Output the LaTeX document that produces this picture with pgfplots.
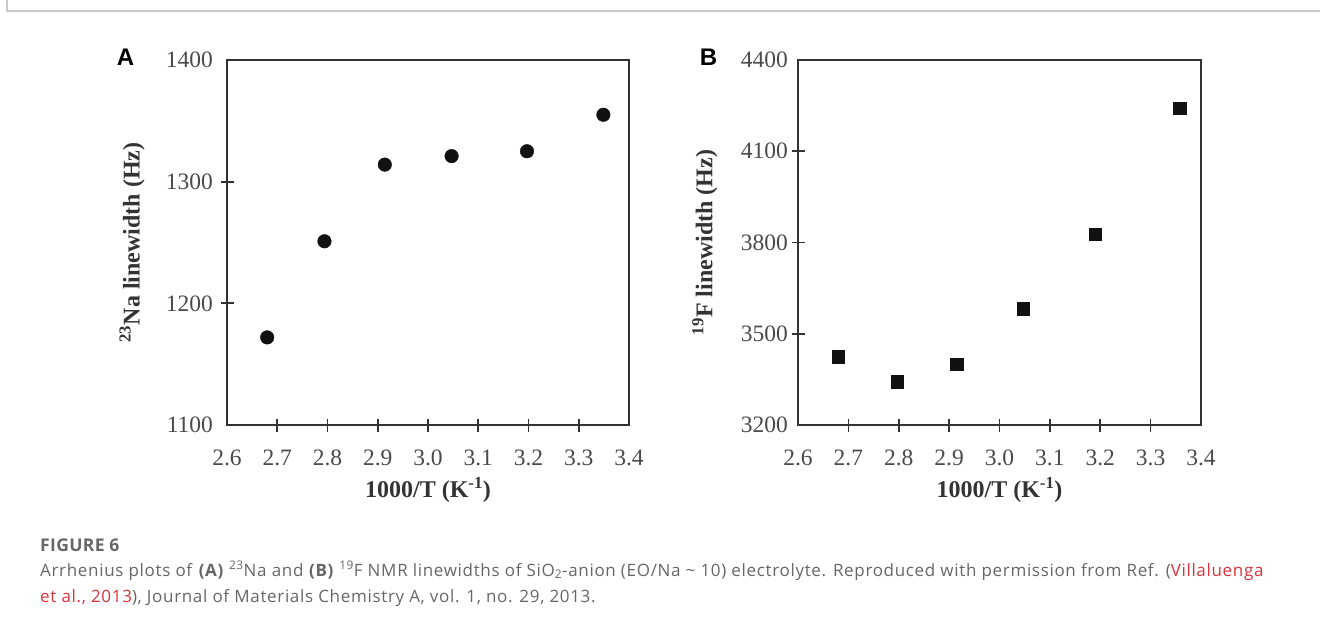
\documentclass[border=0pt]{standalone}
\usepackage{pgfplots}
\pgfplotsset{compat=1.18}
\usepackage{fontspec}
\setmainfont{Liberation Serif}
\newfontfamily\capfont[LetterSpace=4]{Open Sans}
\newfontfamily\capfontb[LetterSpace=2]{Open Sans}
\newfontfamily\letfont{Liberation Sans}
\definecolor{axcol}{HTML}{333333}
\definecolor{tlcol}{HTML}{4A4A4A}
\definecolor{capgray}{HTML}{666666}
\definecolor{capred}{HTML}{D9343D}
\definecolor{framegray}{HTML}{C8C8C8}
\definecolor{markcol}{HTML}{111111}

\pgfplotsset{
  myax/.style={
    scale only axis,
    width=402pt, height=365pt,
    xmin=2.6, xmax=3.4,
    axis line style={draw=axcol, line width=1.4pt},
    every tick/.style={draw=axcol, line width=1.7pt},
    tick align=center,
    major tick length=13pt,
    xtick pos=bottom, ytick pos=left,
    xtick={2.7,2.8,2.9,3.0,3.1,3.2,3.3},
    extra x ticks={2.6,3.4},
    extra x tick style={tick style={draw=none}},
    /pgf/number format/assume math mode=true,
    tick label style={font=\fontsize{23.5}{26}\selectfont, text=tlcol},
    xticklabel style={anchor=center, yshift=-26pt, /pgf/number format/fixed, /pgf/number format/fixed zerofill, /pgf/number format/precision=1},
    yticklabel style={anchor=east, /pgf/number format/1000 sep={}},
    label style={font=\fontsize{24}{28}\selectfont\bfseries, text=axcol},
    xlabel style={at={(axis description cs:0.5,-0.178)}, anchor=center},
  }
}

\begin{document}
\begin{tikzpicture}[x=1pt,y=1pt]
\path[use as bounding box] (0pt,0pt) rectangle (1320pt,622pt);
\draw[framegray, line width=1.2pt] (7pt,622pt) -- (7pt,611pt) -- (1320pt,611pt);

% Panel A
\begin{axis}[myax,
  at={(227pt,197pt)}, anchor=south west,
  ymin=1100, ymax=1400,
  ytick={1200,1300},
  extra y ticks={1100,1400},
  extra y tick style={tick style={draw=none}},
  yticklabel style={xshift=-4pt},
  xlabel={1000/T (K\textsuperscript{-1})},
  ylabel={\textsuperscript{23}Na linewidth (Hz)},
  ylabel style={at={(axis description cs:-0.236,0.5)}, anchor=center},
]
\addplot[only marks, mark=*, mark size=6.8pt, mark options={fill=markcol, draw=markcol}] coordinates {
(2.680,1172) (2.794,1251) (2.914,1314) (3.047,1321) (3.197,1325) (3.349,1355)
};
\end{axis}

% Panel B
\begin{axis}[myax,
  at={(798pt,197pt)}, anchor=south west,
  width=403pt,
  ymin=3200, ymax=4400,
  ytick={3500,3800,4100},
  extra y ticks={3200,4400},
  extra y tick style={tick style={draw=none}},
  yticklabel style={xshift=0pt},
  xlabel={1000/T (K\textsuperscript{-1})},
  ylabel={\textsuperscript{19}F linewidth (Hz)},
  ylabel style={at={(axis description cs:-0.231,0.5)}, anchor=center},
]
\addplot[only marks, mark=square*, mark size=6.2pt, mark options={fill=markcol, draw=markcol}] coordinates {
(2.680,3424) (2.797,3343) (2.915,3400) (3.047,3583) (3.190,3828) (3.358,4242)
};
\end{axis}

% Panel letters
\node[anchor=base, font=\letfont\bfseries\fontsize{24}{28}\selectfont] at (125.5pt,556.5pt) {A};
\node[anchor=base, font=\letfont\bfseries\fontsize{24}{28}\selectfont] at (708.5pt,556.5pt) {B};

% Caption
\node[anchor=base west, inner sep=0pt, text=capgray, font=\capfontb\bfseries\fontsize{17.5}{20}\selectfont] at (40pt,70.5pt) {FIGURE 6};
\node[anchor=base west, inner sep=0pt, text=capgray, font=\capfont\fontsize{17}{20}\selectfont] at (40pt,46pt)
  {Arrhenius plots of \textbf{(A)} \textsuperscript{23}Na and \textbf{(B)} \textsuperscript{19}F NMR linewidths of SiO\textsubscript{2}-anion (EO/Na \textasciitilde{} 10) electrolyte. Reproduced with permission from Ref. (\textcolor{capred}{Villaluenga}};
\node[anchor=base west, inner sep=0pt, text=capgray, font=\capfont\fontsize{17}{20}\selectfont] at (40pt,20pt)
  {\textcolor{capred}{et al., 2013}), Journal of Materials Chemistry A, vol. 1, no. 29, 2013.};
\end{tikzpicture}
\end{document}
